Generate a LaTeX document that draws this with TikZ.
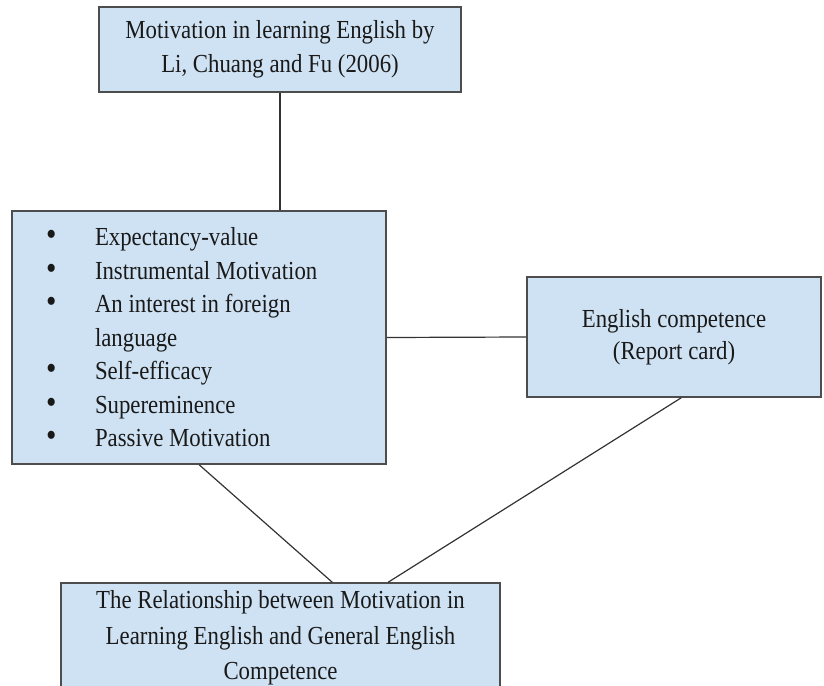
\documentclass[tikz,border=0pt]{standalone}
\usepackage{fontspec}
\setmainfont{Liberation Serif}[FakeStretch=0.877]
\definecolor{boxfill}{HTML}{CFE2F3}
\definecolor{boxline}{HTML}{4D4D4D}
\definecolor{conline}{HTML}{333333}
\tikzset{
  box/.style={draw=boxline, line width=1.6pt, fill=boxfill, inner sep=2pt,
    font=\fontsize{26}{33.5}\selectfont, text=black!90, align=center},
  conn/.style={draw=conline, line width=1.2pt},
}
\newcommand{\bul}{\makebox[49pt][l]{\scalebox{1.3}{\textbullet}}}
\begin{document}
\begin{tikzpicture}[x=1pt, y=-1pt]
\clip (0,0) rectangle (824,685);
\fill[white] (0,0) rectangle (824,685);
\node[box, minimum width=362pt, minimum height=85pt] (top) at (280,49.5)
  {Motivation in learning English by\\Li, Chuang and Fu (2006)};
\node[box, minimum width=374pt, minimum height=253pt, text width=306pt,
  inner xsep=34pt, align=flush left] (mid) at (199,337.5)
  {\bul Expectancy-value\\
   \bul Instrumental Motivation\\
   \bul An interest in foreign\\
   \hspace*{49pt}language\\
   \bul Self-efficacy\\
   \bul Supereminence\\
   \bul Passive Motivation};
\node[box, minimum width=294pt, minimum height=120pt, font=\fontsize{26}{32}\selectfont] (right) at (674,337)
  {English competence\\(Report card)};
\node[box, minimum width=439pt, minimum height=110pt, font=\fontsize{26}{35.5}\selectfont] (bot) at (280.5,638)
  {The Relationship between Motivation in\\Learning English and General English\\Competence};
\draw[conn] (top.south) -- (top.south |- mid.north);
\draw[conn] (mid.east) -- (right.west);
\draw[conn] ([xshift=188pt]mid.south west) -- ([xshift=272pt]bot.north west);
\draw[conn] ([xshift=155pt]right.south west) -- ([xshift=328pt]bot.north west);
\end{tikzpicture}
\end{document}
